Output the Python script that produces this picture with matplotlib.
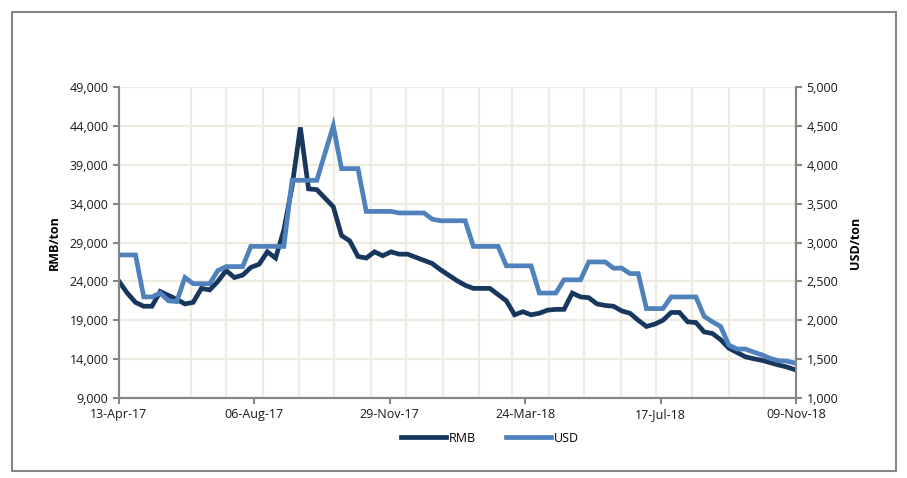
import numpy as np
import matplotlib
matplotlib.use("Agg")
import matplotlib.pyplot as plt
import matplotlib.dates as mdates
import matplotlib.ticker as mticker
import pandas as pd

## Data (weekly)
start = "2017-04-13"
dates = pd.date_range(start, periods=83, freq="7D")

rmb = [24000, 22500, 21300, 20800, 20800, 22700, 22200, 21700, 21100, 21300,
       23100, 22900, 24000, 25400, 24500, 24800, 25800, 26200, 27800, 27000,
       30600, 36200, 43800, 35900, 35800, 34700, 33600, 29900, 29200, 27200,
       27000, 27800, 27300, 27800, 27500, 27500, 27100, 26700, 26300, 25500,
       24800, 24100, 23500, 23100, 23100, 23100, 22300, 21500, 19700, 20100,
       19700, 19900, 20300, 20400, 20400, 22500, 22000, 21900, 21100, 20900,
       20800, 20200, 19900, 19000, 18200, 18500, 19000, 20000, 20000, 18800,
       18700, 17500, 17300, 16500, 15400, 14850, 14300, 14050, 13850, 13550,
       13250, 13000, 12650]

usd = [2840, 2840, 2840, 2300, 2300, 2350, 2250, 2240, 2550, 2470,
       2470, 2470, 2640, 2690, 2690, 2690, 2950, 2950, 2950, 2950,
       2950, 3800, 3800, 3800, 3800, 4150, 4500, 3950, 3950, 3950,
       3400, 3400, 3400, 3400, 3380, 3380, 3380, 3380, 3300, 3280,
       3280, 3280, 3280, 2950, 2950, 2950, 2950, 2700, 2700, 2700,
       2700, 2350, 2350, 2350, 2520, 2520, 2520, 2750, 2750, 2750,
       2670, 2670, 2600, 2600, 2150, 2150, 2150, 2300, 2300, 2300,
       2300, 2050, 1980, 1920, 1680, 1630, 1630, 1590, 1555, 1510,
       1480, 1475, 1450]

x_start = pd.Timestamp("2017-04-13")
x_end = pd.Timestamp("2018-11-09")
label_dates = pd.date_range(x_start, x_end, freq="115D")
grid_dates = pd.date_range("2017-05-13", "2018-10-13", freq="MS") + pd.Timedelta(days=12)

c_rmb = "#17375E"
c_usd = "#4F81BD"
c_grid = "#EEECE1"
c_axis = "#868686"

plt.rcParams["font.family"] = ["Open Sans", "DejaVu Sans"]

fig = plt.figure(figsize=(9.07, 4.78), dpi=100)
ax = fig.add_axes([119/907, 1-398/478, (796-119)/907, (398-87)/478])
ax2 = ax.twinx()

ax.plot(dates, rmb, color=c_rmb, lw=3.4, label="RMB", solid_joinstyle="miter")
ax2.plot(dates, usd, color=c_usd, lw=3.4, label="USD", solid_joinstyle="miter")

ax.set_xlim(x_start, x_end)
ax.set_ylim(9000, 49000)
ax2.set_ylim(1000, 5000)
ax.set_yticks(np.arange(9000, 49001, 5000))
ax2.set_yticks(np.arange(1000, 5001, 500))
ax.yaxis.set_major_formatter(mticker.StrMethodFormatter("{x:,.0f}"))
ax2.yaxis.set_major_formatter(mticker.StrMethodFormatter("{x:,.0f}"))

ax.set_xticks(label_dates)
ax.xaxis.set_major_formatter(mdates.DateFormatter("%d-%b-%y"))
ax.set_xticks(grid_dates, minor=True)
ax.grid(which="minor", axis="x", color=c_grid, lw=1.6)
ax.grid(which="major", axis="y", color=c_grid, lw=1.6)
ax.set_axisbelow(True)

for a in (ax, ax2):
    a.spines["top"].set_visible(False)
    for s in ("left", "right", "bottom"):
        a.spines[s].set_color(c_axis)
        a.spines[s].set_linewidth(1.5)
    a.tick_params(colors=c_axis, labelcolor="#1a1a1a", labelsize=9, width=1.5, length=4)
ax.tick_params(axis="x", which="minor", length=0)
ax.tick_params(axis="x", pad=3)

ax.set_ylabel("RMB/ton", fontsize=9, fontweight="bold", labelpad=6)
ax2.set_ylabel("USD/ton", fontsize=9, fontweight="bold", labelpad=8)

h1, l1 = ax.get_legend_handles_labels()
h2, l2 = ax2.get_legend_handles_labels()
fig.legend(h1 + h2, l1 + l2, loc="center", bbox_to_anchor=(490/907, 1-438/478),
           ncol=2, frameon=False, fontsize=9, handlelength=3.6, handletextpad=0.2,
           columnspacing=2.4)

# outer chart border
fig.add_artist(plt.Rectangle((12/907, 1-471/478), (896-12)/907, (471-12)/478,
                             transform=fig.transFigure, fill=False,
                             edgecolor="#868686", lw=1.5))

fig.savefig("out.png", dpi=100)
